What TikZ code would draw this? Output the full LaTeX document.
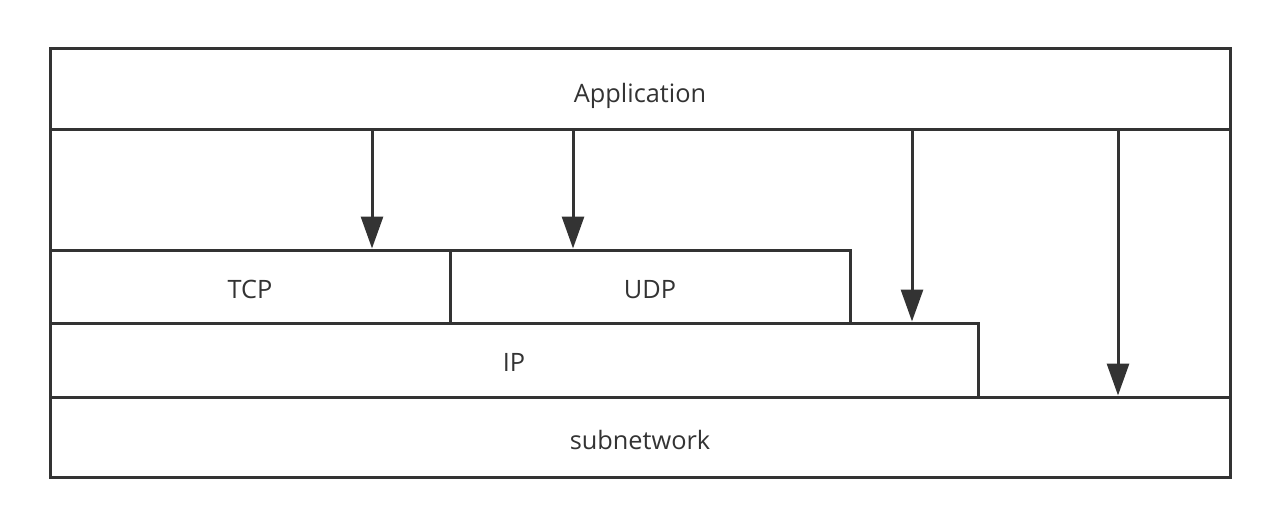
\documentclass[tikz,border=0pt]{standalone}
\usepackage{fontspec}
\setmainfont{Open Sans}
\usetikzlibrary{fit,arrows.meta}
\definecolor{ink}{HTML}{333333}
\tikzset{
  box/.style={draw=ink, line width=2.25pt, inner sep=0pt},
  lbl/.style={text=ink, inner sep=0pt, font=\fontsize{19pt}{22pt}\selectfont, yshift=-2pt},
  arr/.style={draw=ink, line width=2.25pt, -{Triangle[width=16.5pt,length=24pt]}}
}
\begin{document}
\begin{tikzpicture}[x=0.75pt,y=-0.75pt]
\useasboundingbox (0,0) rectangle (1280,528);
\node[box, fit={(50,49)(1230,477)}] (outer) {};
\node[box, fit={(50,49)(1230,129)}, label={[lbl, yshift=-3pt]center:Application}] (app) {};
\node[box, fit={(50,250)(450,323)}, label={[lbl]center:TCP}] (tcp) {};
\node[box, fit={(450,250)(850,323)}, label={[lbl]center:UDP}] (udp) {};
\node[box, fit={(50,323)(978,397)}, label={[lbl]center:IP}] (ip) {};
\node[box, fit={(50,397)(1230,477)}, label={[lbl]center:subnetwork}] (sub) {};
\coordinate (a1) at (372,129);
\coordinate (a2) at (573,129);
\coordinate (a3) at (912,129);
\coordinate (a4) at (1118,129);
\draw[arr] (a1) -- (a1 |- tcp.north);
\draw[arr] (a2) -- (a2 |- udp.north);
\draw[arr] (a3) -- (a3 |- ip.north);
\draw[arr] (a4) -- (a4 |- sub.north);
\end{tikzpicture}
\end{document}
